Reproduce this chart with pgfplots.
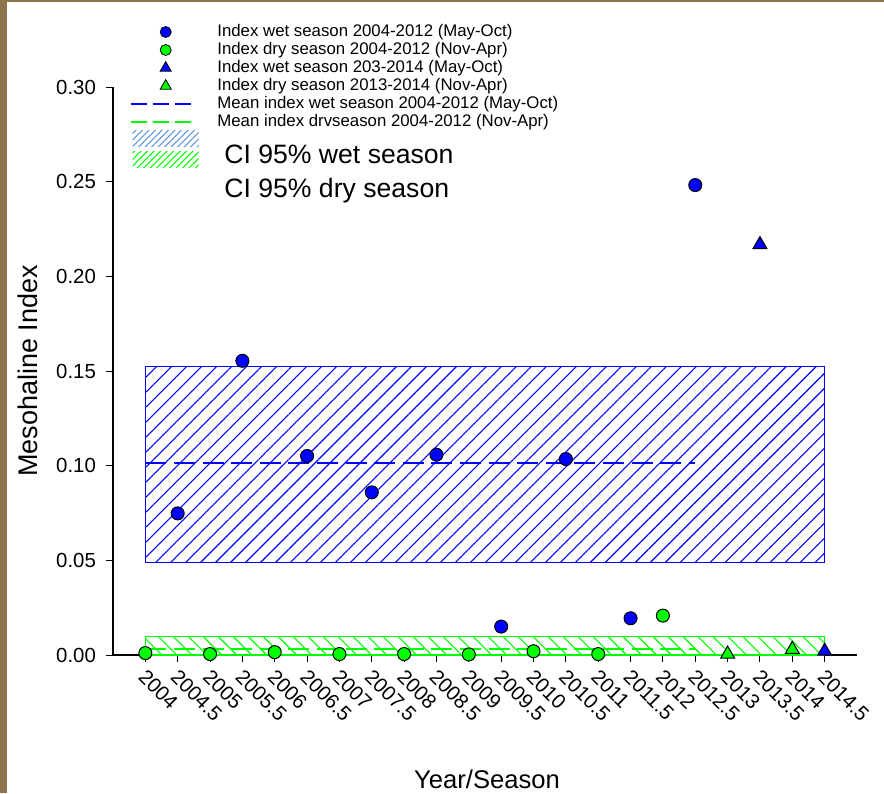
\documentclass[border=0pt]{standalone}
\usepackage{fontspec}
\setmainfont{Liberation Sans}
\usepackage{pgfplots}
\pgfplotsset{compat=1.18}
\usetikzlibrary{patterns.meta}
\definecolor{wetblue}{RGB}{0,0,255}
\definecolor{drygreen}{RGB}{0,255,0}
\definecolor{wetleg}{RGB}{95,150,225}
\definecolor{framebrown}{RGB}{141,118,78}
\pgfplotsset{
  markleg/.style={legend image code/.code={\path[draw=none,fill=none] (0pt,-4.5pt) rectangle (1pt,4.5pt); \draw[##1] plot coordinates {(17.5pt,0pt)};}},
  lineleg/.style={legend image code/.code={\path[draw=none,fill=none] (0pt,-4.5pt) rectangle (1pt,4.5pt); \draw[##1] (0pt,0pt) -- (32pt,0pt);}},
  wetpatch/.style={legend image code/.code={\path[draw=none,fill=none] (0pt,-5.5pt) rectangle (1pt,12.5pt);
     \fill[overlay, draw=none, pattern={Lines[angle=45,distance=2.3pt,line width=0.5pt]}, pattern color=wetleg] (1pt,4.5pt) rectangle (34pt,12.5pt);}},
  drypatch/.style={legend image code/.code={\path[draw=none,fill=none] (0pt,-5.5pt) rectangle (1pt,11.25pt);
     \fill[overlay, draw=none, pattern={Lines[angle=45,distance=2.3pt,line width=0.5pt]}, pattern color=drygreen] (1pt,10.75pt) rectangle (34pt,18.75pt);}},
}
\begin{document}
\begin{tikzpicture}
\useasboundingbox (-56.5pt,-69pt) rectangle (385.5pt,327.5pt);
\fill[framebrown] (-56.5pt,-69pt) rectangle (385.5pt,327.5pt);
\fill[white] (-53pt,-69pt) rectangle (385.5pt,326.5pt);
\begin{axis}[
  at={(0pt,0pt)}, anchor=south west,
  scale only axis, width=372pt, height=284pt,
  xmin=2003.5, xmax=2015, ymin=0, ymax=0.30,
  axis x line*=bottom, axis y line*=left,
  axis line style={-, line width=0.6pt},
  clip=false,
  tick align=outside, major tick length=3.5pt,
  tick style={black, line width=0.5pt},
  xtick={2004,2004.5,2005,2005.5,2006,2006.5,2007,2007.5,2008,2008.5,2009,2009.5,2010,2010.5,2011,2011.5,2012,2012.5,2013,2013.5,2014,2014.5},
  xticklabels={2004,2004.5,2005,2005.5,2006,2006.5,2007,2007.5,2008,2008.5,2009,2009.5,2010,2010.5,2011,2011.5,2012,2012.5,2013,2013.5,2014,2014.5},
  ytick={0,0.05,0.10,0.15,0.20,0.25,0.30},
  ticklabel style={font=\fontsize{10.2}{12}\selectfont},
  yticklabel style={xshift=-1.5pt, /pgf/number format/.cd, fixed, fixed zerofill, precision=2, assume math mode=true},
  xticklabel style={xshift=1pt, yshift=-3pt, rotate=-45, anchor=north west, inner sep=0pt},
  every axis y label/.style={at={(axis description cs:-0.1147,0.5)}, rotate=90, anchor=center},
  every axis x label/.style={at={(axis description cs:0.5027,-0.2192)}, anchor=center},
  ylabel={\fontsize{13.5}{16}\selectfont Mesohaline Index},
  xlabel={\fontsize{12.8}{15}\selectfont Year/Season},
  legend cell align=left,
  legend style={at={(0.02285,1.1127)}, anchor=north west,
    draw=none, fill=none, inner sep=0pt, outer sep=0pt,
    row sep=0pt, column sep=11pt,
    font=\fontsize{8.4}{9}\selectfont,
    nodes={inner sep=0pt, outer sep=0pt}},
]
% ---- legend entries ----
\addlegendimage{markleg, only marks, mark=*, mark size=2.75pt, mark options={fill=wetblue, draw=black, line width=0.4pt}}
\addlegendentry{Index wet season 2004-2012 (May-Oct)}
\addlegendimage{markleg, only marks, mark=*, mark size=2.75pt, mark options={fill=drygreen, draw=black, line width=0.4pt}}
\addlegendentry{Index dry season 2004-2012 (Nov-Apr)}
\addlegendimage{markleg, only marks, mark=triangle*, mark size=3.2pt, mark options={fill=wetblue, draw=black, line width=0.4pt}}
\addlegendentry{Index wet season 203-2014 (May-Oct)}
\addlegendimage{markleg, only marks, mark=triangle*, mark size=3.2pt, mark options={fill=drygreen, draw=black, line width=0.4pt}}
\addlegendentry{Index dry season 2013-2014 (Nov-Apr)}
\addlegendimage{lineleg, color=wetblue, line width=0.7pt, dash pattern=on 8pt off 3pt}
\addlegendentry{Mean index wet season 2004-2012 (May-Oct)}
\addlegendimage{lineleg, color=drygreen, line width=0.7pt, dash pattern=on 8pt off 3pt}
\addlegendentry{Mean index drvseason 2004-2012 (Nov-Apr)}
\addlegendimage{wetpatch}
\addlegendentry{\fontsize{13.3}{15}\selectfont\hspace{3.5pt}CI 95\% wet season}
\addlegendimage{drypatch}
\addlegendentry{\fontsize{13.3}{15}\selectfont\hspace{3.5pt}CI 95\% dry season}
% ---- CI areas ----
\addplot[forget plot, draw=wetblue, line width=0.6pt,
  pattern={Lines[angle=45,distance=5.3pt,line width=0.55pt]}, pattern color=wetblue]
  coordinates {(2004,0.0488) (2014.5,0.0488) (2014.5,0.1523) (2004,0.1523) (2004,0.0488)};
\addplot[forget plot, draw=drygreen, line width=0.6pt,
  pattern={Lines[angle=-45,distance=5.3pt,line width=0.55pt]}, pattern color=drygreen]
  coordinates {(2004,0) (2014.5,0) (2014.5,0.0099) (2004,0.0099) (2004,0)};
% ---- means ----
\addplot[forget plot, wetblue, line width=0.9pt, dash pattern=on 10.5pt off 3.8pt]
  coordinates {(2004,0.1012) (2012.5,0.1012)};
\addplot[forget plot, drygreen, line width=0.9pt, dash pattern=on 10.5pt off 3.8pt]
  coordinates {(2004,0.0032) (2012.5,0.0032)};
% ---- points ----
\addplot[forget plot, only marks, mark=*, mark size=3.25pt, mark options={fill=wetblue, draw=black, line width=0.5pt}]
  coordinates {(2004.5,0.0748) (2005.5,0.1554) (2006.5,0.1051) (2007.5,0.0859) (2008.5,0.1058) (2009.5,0.0150) (2010.5,0.1035) (2011.5,0.0194) (2012.5,0.2482)};
\addplot[forget plot, only marks, mark=*, mark size=3.25pt, mark options={fill=drygreen, draw=black, line width=0.5pt}]
  coordinates {(2004,0.0010) (2005,0.0005) (2006,0.0015) (2007,0.0005) (2008,0.0005) (2009,0.0003) (2010,0.0020) (2011,0.0005) (2012,0.0208)};
\addplot[forget plot, only marks, mark=triangle*, mark size=4pt, mark options={fill=wetblue, draw=black, line width=0.5pt}]
  coordinates {(2013.5,0.2168) (2014.5,0.0020)};
\addplot[forget plot, only marks, mark=triangle*, mark size=4pt, mark options={fill=drygreen, draw=black, line width=0.5pt}]
  coordinates {(2013,0.0005) (2014,0.0030)};
\end{axis}
\end{tikzpicture}
\end{document}
